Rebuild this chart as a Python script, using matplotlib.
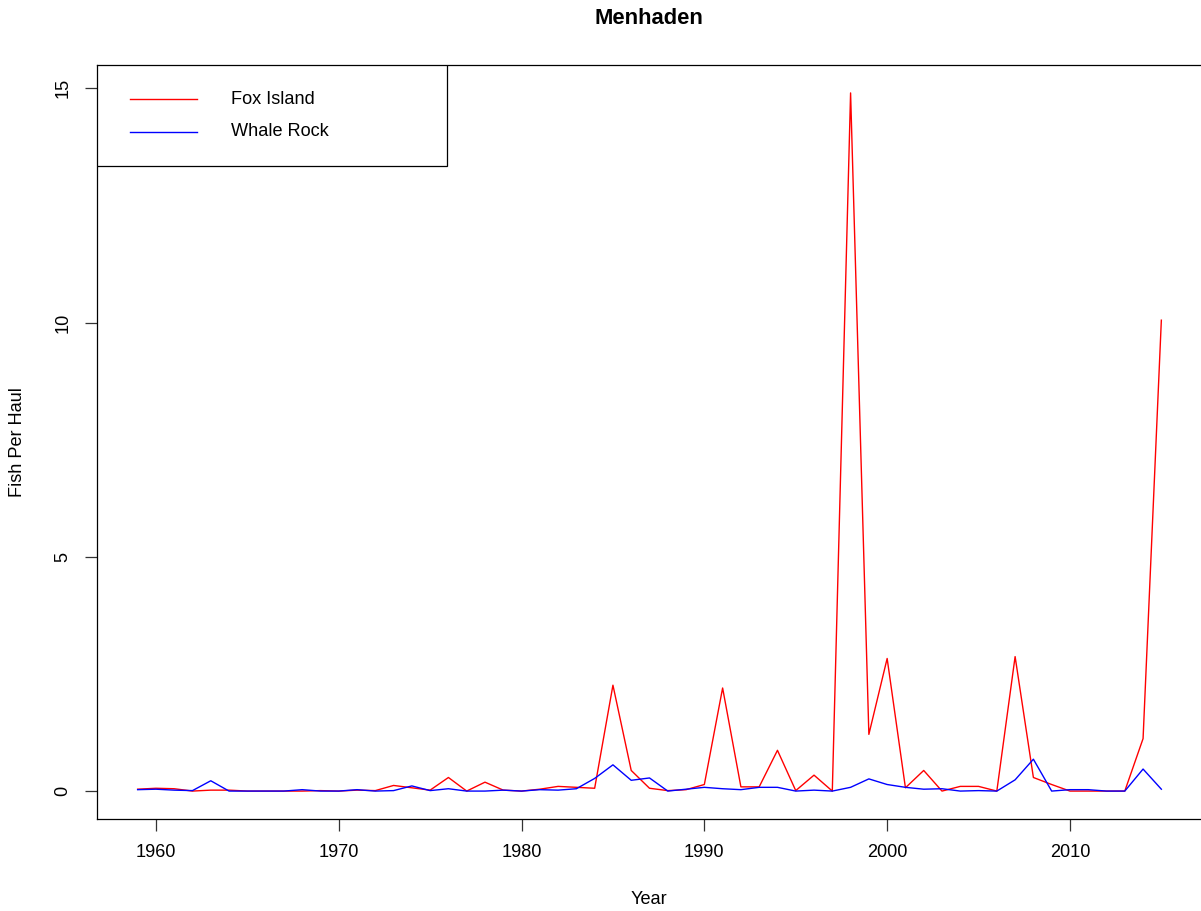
import matplotlib
matplotlib.use("Agg")
import matplotlib.pyplot as plt
from matplotlib.patches import Rectangle

plt.rcParams.update({
    "font.family": ["Liberation Sans", "DejaVu Sans"],
    "font.size": 13.1,
})

# ---- data ----
years = list(range(1959, 2016))
fox_island = [
    0.04, 0.06, 0.05, 0.00, 0.02, 0.02, 0.00, 0.00, 0.00, 0.00,   # 1959-1968
    0.01, 0.00, 0.02, 0.01, 0.12, 0.07, 0.02, 0.29, 0.00, 0.19,   # 1969-1978
    0.02, 0.00, 0.04, 0.10, 0.08, 0.06, 2.26, 0.44, 0.06, 0.01,   # 1979-1988
    0.03, 0.14, 2.20, 0.09, 0.09, 0.87, 0.01, 0.34, 0.00, 14.90,  # 1989-1998
    1.21, 2.83, 0.07, 0.44, 0.00, 0.10, 0.10, 0.00, 2.87, 0.29,   # 1999-2008
    0.14, 0.00, 0.00, 0.00, 0.00, 1.12, 10.05,                    # 2009-2015
]
whale_rock = [
    0.03, 0.04, 0.02, 0.01, 0.22, 0.00, 0.00, 0.00, 0.00, 0.03,   # 1959-1968
    0.00, 0.00, 0.03, 0.00, 0.01, 0.11, 0.01, 0.05, 0.00, 0.00,   # 1969-1978
    0.02, 0.00, 0.03, 0.02, 0.05, 0.27, 0.56, 0.23, 0.28, 0.00,   # 1979-1988
    0.04, 0.08, 0.05, 0.03, 0.08, 0.08, 0.00, 0.02, 0.00, 0.08,   # 1989-1998
    0.26, 0.14, 0.08, 0.04, 0.05, 0.00, 0.01, 0.00, 0.24, 0.68,   # 1999-2008
    0.00, 0.03, 0.03, 0.00, 0.00, 0.47, 0.04,                     # 2009-2015
]
series_labels = ["Fox Island", "Whale Rock"]
series_colors = ["#ff0000", "#0000ff"]
x_ticks = [1960, 1970, 1980, 1990, 2000, 2010]
y_ticks = [0, 5, 10, 15]

W, H = 1201, 911
fig = plt.figure(figsize=(W / 100, H / 100), dpi=100)
# plot region: right edge runs just past the image edge, as in the reference
ax_l, ax_w = 96.7, 1105.6
ax = fig.add_axes([ax_l / W, 1 - 819 / H, ax_w / W, 754 / H])

for vals, c in zip([fox_island, whale_rock], series_colors):
    ax.plot(years, vals, color=c, lw=1.0)

# R-style 4% padding on both axes
xr = years[-1] - years[0]
ax.set_xlim(years[0] - 0.04 * xr, years[-1] + 0.04 * xr)
ymax = max(max(fox_island), max(whale_rock))
ax.set_ylim(-0.04 * ymax, ymax * 1.04)

ax.set_xticks(x_ticks)
ax.set_yticks(y_ticks)
ax.set_yticklabels([str(t) for t in y_ticks], rotation=90, va="center")
ax.tick_params(direction="out", length=8.6, width=0.9, pad=9.5, color="#333333")
for s in ax.spines.values():
    s.set_linewidth(0.9)

fig.text(649 / W, 1 - 19 / H, "Menhaden", ha="center", va="center",
         fontsize=15.8, fontweight="bold")
fig.text(649 / W, 1 - 899 / H, "Year", ha="center", va="center")
fig.text(18 / W, 1 - 442 / H, "Fish Per Haul", ha="center", va="center",
         rotation=90)

# ---- legend box, R style (pixel offsets from the plot's top-left corner) ----
T = ax.transAxes
ax.add_patch(Rectangle((0, 1 - 101 / 754), 350 / ax_w, 101 / 754, transform=T,
                       facecolor="white", edgecolor="black", lw=0.9, zorder=5))
for k, (lab, c) in enumerate(zip(series_labels, series_colors)):
    ly = 1 - (34 + 33 * k) / 754
    ax.plot([33 / ax_w, 100 / ax_w], [ly, ly], transform=T, color=c, lw=1.0,
            zorder=6)
    ax.text(134 / ax_w, ly, lab, transform=T, ha="left", va="center", zorder=6)

fig.savefig("out.png", dpi=100, facecolor="white")
